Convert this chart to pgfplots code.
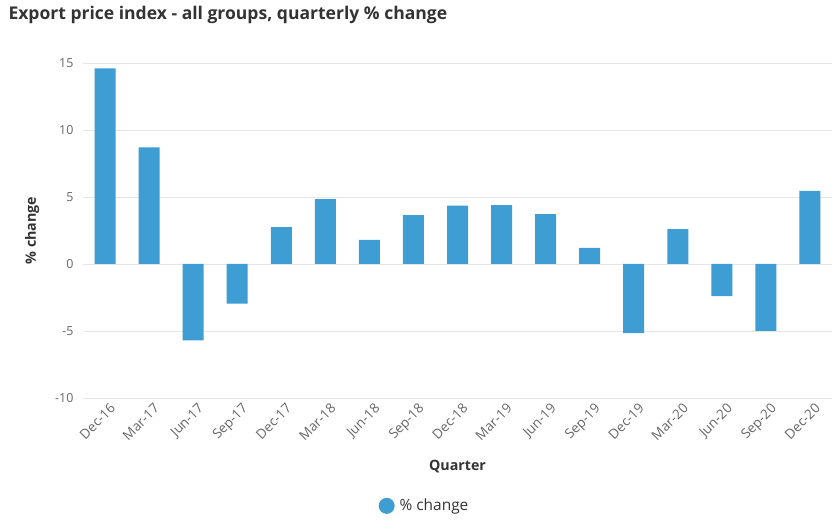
\documentclass[border=0pt]{standalone}
\usepackage{pgfplots}
\pgfplotsset{compat=1.18}
\usepackage{fontspec}
\setmainfont{Open Sans}
\definecolor{barblue}{HTML}{3E9DD2}
\definecolor{gridgray}{HTML}{E6E6E6}
\definecolor{ticktext}{HTML}{666666}
\definecolor{labeltext}{HTML}{333333}
\definecolor{axisblue}{HTML}{C0D0E0}

\begin{document}
\begin{tikzpicture}[font=\fontsize{13}{15}\selectfont]
\path (0,0) rectangle (840bp,532bp);
\node[anchor=base west, text=labeltext, font=\fontsize{17.6}{20}\selectfont\bfseries] at (5bp,512bp) {Export price index - all groups, quarterly \% change};
\begin{axis}[
  at={(83bp,134bp)}, anchor=south west,
  scale only axis, width=749bp, height=335bp,
  ybar, bar width=21bp,
  xmin=-0.5, xmax=16.5, ymin=-10, ymax=15,
  ytick={-10,-5,0,5,10,15},
  xtick=data,
  xticklabels={Dec-16,Mar-17,Jun-17,Sep-17,Dec-17,Mar-18,Jun-18,Sep-18,Dec-18,Mar-19,Jun-19,Sep-19,Dec-19,Mar-20,Jun-20,Sep-20,Dec-20},
  x tick label style={rotate=45, anchor=north east, text=ticktext, inner sep=1bp, xshift=1bp, yshift=-5bp, font=\fontsize{13.5}{15}\selectfont},
  y tick label style={text=ticktext, xshift=-6bp, font=\fontsize{12.5}{14}\selectfont},
  /pgf/number format/assume math mode=true,
  ymajorgrids, grid style={gridgray, line width=0.8bp},
  axis line style={draw=none},
  major tick length=0pt,
  axis x line*=bottom, axis y line*=left,
  xlabel={Quarter}, ylabel={\% change},
  label style={text=labeltext, font=\fontsize{14.3}{16}\selectfont\bfseries},
  xlabel style={at={(axis description cs:0.5,-0.206)}, anchor=center},
  ylabel style={at={(axis description cs:-0.068,0.5)}, anchor=center, rotate=0},
  legend style={at={(axis description cs:0.456,-0.322)}, anchor=center, draw=none, fill=none,
    font=\fontsize{15.5}{17}\selectfont, text=labeltext},
  legend image code/.code={\fill[barblue] (0,0) circle (8bp);},
]
\draw[axisblue, line width=1bp] (axis cs:-0.5,-10) -- (axis cs:16.5,-10);
\addplot[fill=barblue, draw=none] coordinates {
(0,14.6) (1,8.7) (2,-5.7) (3,-2.95) (4,2.75) (5,4.85) (6,1.8) (7,3.65)
(8,4.35) (9,4.4) (10,3.72) (11,1.2) (12,-5.15) (13,2.6) (14,-2.4) (15,-5.0) (16,5.45)
};
\addlegendentry{\hspace{3bp}\% change}
\end{axis}
\end{tikzpicture}
\end{document}
